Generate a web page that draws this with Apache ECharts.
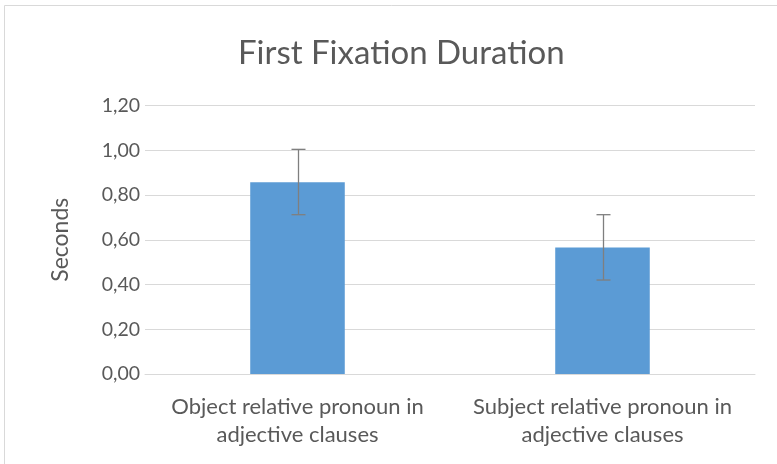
<!DOCTYPE html>
<html>
<head>
<meta charset="utf-8">
<script src="https://cdn.jsdelivr.net/npm/echarts@6/dist/echarts.min.js"></script>
<style>
  html, body { margin: 0; padding: 0; background: #fff; }
  #chart { width: 777px; height: 464px; }
</style>
</head>
<body>
<div id="chart"></div>
<script>
const categories = ['Object relative pronoun in\nadjective clauses', 'Subject relative pronoun in\nadjective clauses']
const meanSeconds = [0.857, 0.565]
const errorLow = [0.712, 0.420]
const errorHigh = [1.004, 0.712]

const chart = echarts.init(document.getElementById('chart'))
const font = 'Lato, "Open Sans", sans-serif'

const option = {
  animation: false,
  textStyle: { fontFamily: font },
  graphic: [
    {
      type: 'rect',
      shape: { x: 4.5, y: 5.5, width: 800, height: 500 },
      style: { fill: 'none', stroke: '#d9d9d9', lineWidth: 1 }
    }
  ],
  title: {
    text: 'First Fixation Duration',
    left: 233,
    top: 32,
    textStyle: { fontFamily: font, fontSize: 33, fontWeight: 'normal', color: '#595959' }
  },
  grid: { left: 145, right: 22, top: 105.5, bottom: 90 },
  xAxis: {
    type: 'category',
    data: categories,
    axisLine: { lineStyle: { color: '#d9d9d9' } },
    axisTick: { show: false },
    axisLabel: {
      interval: 0,
      hideOverlap: false,
      color: '#595959',
      fontSize: 22,
      lineHeight: 28,
      margin: 19,
      fontFamily: font
    }
  },
  yAxis: {
    type: 'value',
    min: 0,
    max: 1.2,
    interval: 0.2,
    name: 'Seconds',
    nameLocation: 'middle',
    nameGap: 73,
    nameTextStyle: { color: '#595959', fontSize: 23, fontFamily: font },
    axisLine: { show: false },
    axisTick: { show: false },
    splitLine: { lineStyle: { color: '#d9d9d9' } },
    axisLabel: {
      color: '#595959',
      fontSize: 19.5,
      margin: 5,
      fontFamily: font,
      formatter: v => v.toFixed(2).replace('.', ',')
    }
  },
  series: [
    {
      type: 'bar',
      data: meanSeconds,
      barWidth: '31%',
      itemStyle: { color: '#5b9bd5' }
    },
    {
      type: 'custom',
      data: categories.map((c, i) => [i, errorLow[i], errorHigh[i]]),
      z: 10,
      renderItem: function (params, api) {
        const lo = api.coord([api.value(0), api.value(1)])
        const hi = api.coord([api.value(0), api.value(2)])
        const x = Math.round(lo[0]) + 0.5
        const w = 7
        const style = { stroke: '#7f7f7f', lineWidth: 1.3 }
        return {
          type: 'group',
          children: [
            { type: 'line', shape: { x1: x, y1: hi[1], x2: x, y2: lo[1] }, style },
            { type: 'line', shape: { x1: x - w, y1: hi[1], x2: x + w, y2: hi[1] }, style },
            { type: 'line', shape: { x1: x - w, y1: lo[1], x2: x + w, y2: lo[1] }, style }
          ]
        }
      }
    }
  ]
}

chart.setOption(option)
</script>
</body>
</html>
